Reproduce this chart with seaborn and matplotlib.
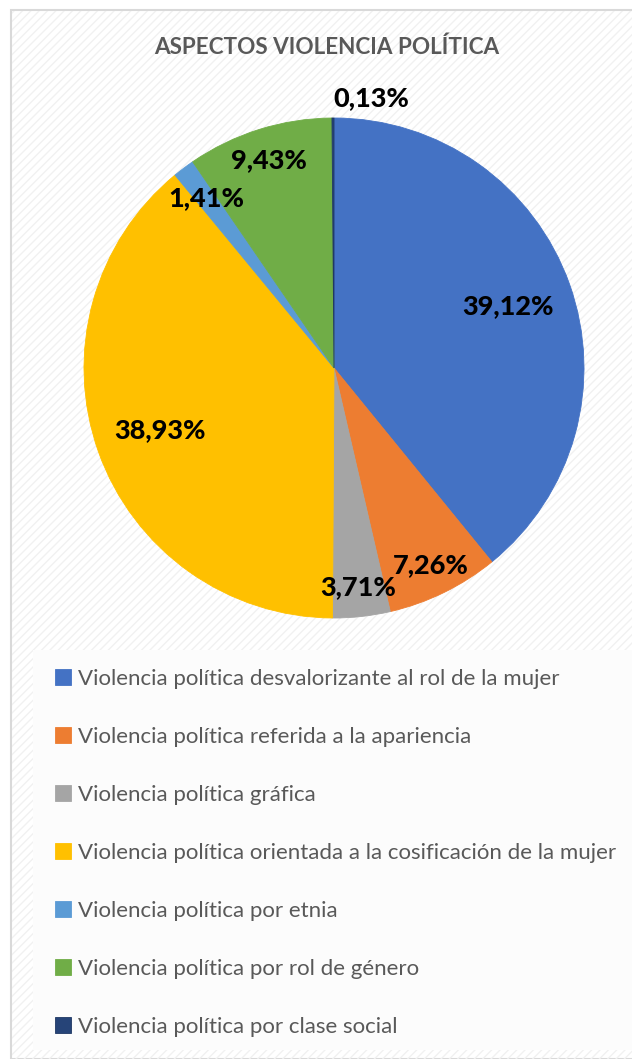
import numpy as np
import matplotlib.pyplot as plt
from matplotlib.patches import Rectangle
import seaborn as sns

CATEGORIES = [
    "Violencia política desvalorizante al rol de la mujer",
    "Violencia política referida a la apariencia",
    "Violencia política gráfica",
    "Violencia política orientada a la cosificación de la mujer",
    "Violencia política por etnia",
    "Violencia política por rol de género",
    "Violencia política por clase social",
]
PERCENTS = [39.12, 7.26, 3.71, 38.93, 1.41, 9.43, 0.13]
LABELS = ["39,12%", "7,26%", "3,71%", "38,93%", "1,41%", "9,43%", "0,13%"]
COLORS = ["#4472C4", "#ED7D31", "#A5A5A5", "#FFC000", "#5B9BD5", "#70AD47", "#264478"]

# radial distance of each value label (fraction of radius), Excel "best fit" look
LABEL_DIST = [0.74, 0.88, 0.88, 0.74, 0.85, 0.87, 1.09]
LABEL_ANGLE_SHIFT = [0, 0, 0, 0, 0, 0, -8]

sns.set_style("white")
plt.rcParams["font.family"] = ["Lato", "DejaVu Sans"]

W, H = 632, 1059
fig = plt.figure(figsize=(W / 100, H / 100), dpi=100)
fig.patch.set_facecolor("white")

# chart area frame with faint diagonal stripes
frame = Rectangle((11 / W, 0), 1, 1 - 10 / H, transform=fig.transFigure,
                  facecolor="white", edgecolor="#d9d9d9", linewidth=1.5, zorder=-3)
fig.patches.append(frame)
stripes = Rectangle((12 / W, 0), 1, 1 - 11 / H, transform=fig.transFigure,
                    facecolor="none", edgecolor="#f1f1f1", hatch="////", linewidth=0, zorder=-2)
fig.patches.append(stripes)
legend_bg = Rectangle((33 / W, 9 / H), 1, (1050 - 650) / H, transform=fig.transFigure,
                      facecolor="#fcfcfc", edgecolor="none", zorder=-1)
fig.patches.append(legend_bg)

cx, cy, r = 334, 368, 250
ax = fig.add_axes([(cx - r) / W, (H - cy - r) / H, 2 * r / W, 2 * r / H])
ax.set_facecolor("none")
ax.set_zorder(1)

wedges, _ = ax.pie(PERCENTS, colors=COLORS, startangle=90, counterclock=False,
                   radius=1, wedgeprops=dict(linewidth=0.6))
for w in wedges:
    w.set_edgecolor(w.get_facecolor())
wedges[-1].set_edgecolor("#1f3864")
ax.set_xlim(-1, 1)
ax.set_ylim(-1, 1)
ax.set_aspect("equal")
ax.axis("off")

for w, lab, d, sh in zip(wedges, LABELS, LABEL_DIST, LABEL_ANGLE_SHIFT):
    ang = np.deg2rad((w.theta1 + w.theta2) / 2 + sh)
    ax.text(d * np.cos(ang), d * np.sin(ang), lab, ha="center", va="center",
            fontsize=19.5, fontweight="black", color="black", clip_on=False)

fig.text(327 / W, 1 - 47 / H, "ASPECTOS VIOLENCIA POLÍTICA", ha="center", va="center",
         fontsize=16.2, fontweight="bold", color="#595959")

leg = fig.legend(wedges, CATEGORIES, loc="upper left", bbox_to_anchor=(44 / W, 1 - 658 / H),
                 frameon=False, fontsize=16.0, labelcolor="#595959", labelspacing=1.71,
                 handlelength=0.72, handleheight=0.72, handletextpad=0.3, borderpad=0)

fig.savefig("out.png", dpi=100)
